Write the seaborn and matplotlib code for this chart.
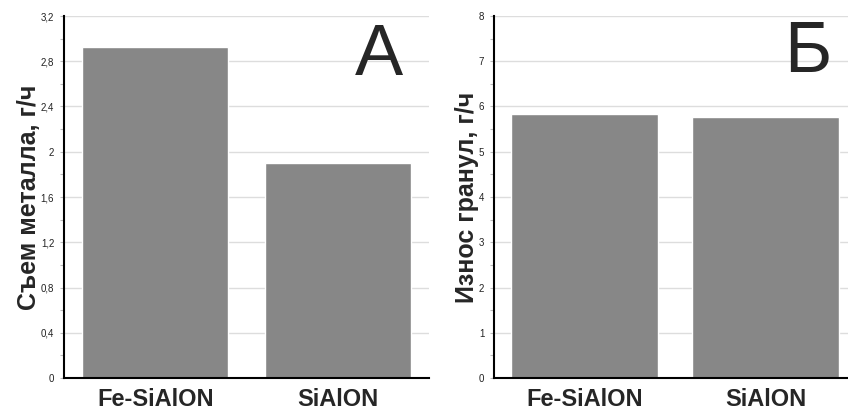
import matplotlib
matplotlib.use("Agg")
import matplotlib.pyplot as plt
import seaborn as sns
import pandas as pd
from matplotlib.ticker import MultipleLocator, FuncFormatter

categories = ["Fe-SiAlON", "SiAlON"]
metal_removal = [2.93, 1.90]
granule_wear = [5.83, 5.77]
ylabel_a = "Съем металла, г/ч"
ylabel_b = "Износ гранул, г/ч"

sns.set_theme(style="white")
plt.rcParams['font.family'] = ['Liberation Sans', 'DejaVu Sans']

fig = plt.figure(figsize=(8.48, 4.11), dpi=100)
W, H = 848, 411
axA = fig.add_axes([64 / W, 1 - 378 / H, 365 / W, 362 / H])
axB = fig.add_axes([494 / W, 1 - 378 / H, 354 / W, 362 / H])

bar_color = "#878787"
df_a = pd.DataFrame({"cat": categories, "val": metal_removal})
df_b = pd.DataFrame({"cat": categories, "val": granule_wear})

sns.barplot(data=df_a, x="cat", y="val", color=bar_color, width=0.8,
            saturation=1, ax=axA, zorder=3)
sns.barplot(data=df_b, x="cat", y="val", color=bar_color, width=0.81,
            saturation=1, ax=axB, zorder=3)

comma = FuncFormatter(lambda v, p: ("%g" % v).replace(".", ","))

for ax, top, major, minor, lab, lp in [(axA, 3.2, 0.4, 0.2, ylabel_a, 0),
                                       (axB, 8, 1, 0.5, ylabel_b, 0)]:
    ax.set_ylim(0, top)
    ax.yaxis.set_major_locator(MultipleLocator(major))
    ax.yaxis.set_minor_locator(MultipleLocator(minor))
    ax.yaxis.set_major_formatter(comma)
    ax.grid(axis="y", which="major", color="#dddddd", linewidth=1.0, zorder=0)
    ax.set_axisbelow(True)
    for s in ["top", "right"]:
        ax.spines[s].set_visible(False)
    for s in ["left", "bottom"]:
        ax.spines[s].set_color("black")
        ax.spines[s].set_linewidth(1.5)
        ax.spines[s].set_zorder(5)
    ax.tick_params(axis="y", which="both", left=True, length=3, width=0.8,
                   color="#bbbbbb", labelsize=7, pad=4, labelcolor="#222222")
    ax.tick_params(axis="x", bottom=False, labelsize=17, pad=1)
    for t in ax.get_xticklabels():
        t.set_fontweight("bold")
    ax.set_xlabel("")
    ax.set_ylabel(lab, fontsize=18, fontweight="bold", labelpad=lp)

axA.set_xlim(-0.5, 1.5)
axB.set_xlim(-0.5, 1.456)

fig.text(379 / W, 1 - 75 / H, "А", fontsize=52, ha="center", va="baseline")
fig.text(808 / W, 1 - 72 / H, "Б", fontsize=52, ha="center", va="baseline")

fig.savefig("out.png", dpi=100, facecolor="white")
